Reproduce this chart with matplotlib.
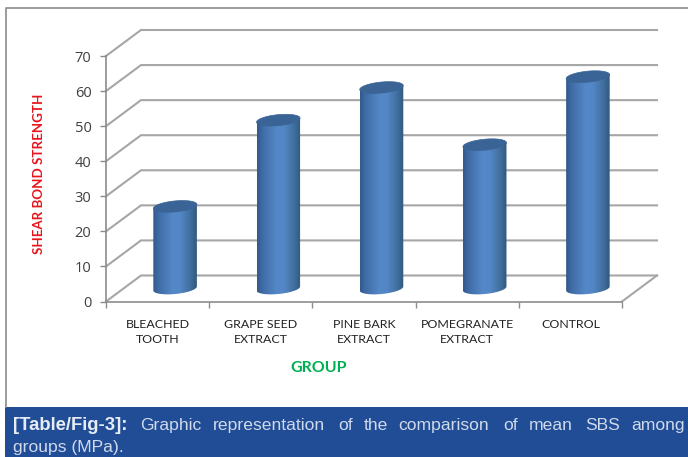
import numpy as np
import matplotlib
matplotlib.use('Agg')
import matplotlib.pyplot as plt
from matplotlib.colors import LinearSegmentedColormap
from matplotlib.lines import Line2D
from matplotlib.patches import Polygon, Rectangle

categories = ['BLEACHED\nTOOTH', 'GRAPE SEED\nEXTRACT', 'PINE BARK\nEXTRACT',
              'POMEGRANATE\nEXTRACT', 'CONTROL']
sbs_values = [23.4, 48, 57.3, 41, 60.4]
y_ticks = [0, 10, 20, 30, 40, 50, 60, 70]
caption_first = ['Graphic', 'representation', 'of', 'the', 'comparison', 'of', 'mean', 'SBS', 'among']
caption_first_x = [140, 213, 338, 364, 398, 503, 529, 585, 631]

W, H = 688, 457
fig = plt.figure(figsize=(W / 100, H / 100), dpi=100, facecolor='white')


def fx(px):
    return px / W


def fy(py):
    return 1 - py / H


# front plane of the fake 3d box
ax = fig.add_axes([fx(106), fy(301.5), (622 - 106) / W, (301.5 - 56) / H])
ax.patch.set_visible(False)
n = len(categories)
ymax = y_ticks[-1]

# depth of the box, in data units
dx = 35 / (516 / n)
dy = 26 / (245.5 / ymax)

wall = '#a6a6a6'
for v in y_ticks:
    ax.plot([0, dx, n + dx], [v, v + dy, v + dy], color=wall, lw=1.5, clip_on=False, zorder=1,
            solid_joinstyle='miter')
ax.plot([n, n + dx], [0, dy], color=wall, lw=1.5, clip_on=False, zorder=1)

cmap = LinearSegmentedColormap.from_list('cyl', [(0, '#335a8c'), (0.12, '#3f6ca6'), (0.45, '#5588c8'),
                                                 (0.62, '#5386c5'), (0.85, '#41709f'), (1, '#325880')])
a = 0.211
b = 5.5 / 3.5
shear = 2 / 3.5
t_low = np.linspace(np.pi, 2 * np.pi, 40)
t_all = np.linspace(0, 2 * np.pi, 80)

for i, val in enumerate(sbs_values):
    cx = i + 0.5 + dx / 2
    y0 = dy / 2
    y1 = val + dy / 2
    # outline of the cylinder body: bottom arc, then up to the top rim
    xs = cx + a * np.cos(t_low)
    ys = y0 + b * np.sin(t_low) + shear * np.cos(t_low)
    body_x = np.r_[cx - a, xs, cx + a]
    body_y = np.r_[y1 - shear, ys, y1 + shear]
    body = Polygon(np.c_[body_x, body_y], closed=True, fc='none', ec='none', zorder=2, clip_on=False)
    ax.add_patch(body)
    im = ax.imshow(np.linspace(0, 1, 64).reshape(1, -1), cmap=cmap, aspect='auto', zorder=2,
                   extent=[cx - a, cx + a, y0 - b - 1, y1 + 1])
    im.set_clip_path(body)
    top_x = cx + a * np.cos(t_all)
    top_y = y1 + b * np.sin(t_all) + shear * np.cos(t_all)
    ax.add_patch(Polygon(np.c_[top_x, top_y], closed=True, fc='#3a6496', ec='#3a6496', lw=0.5,
                         zorder=3, clip_on=False))

ax.set_xlim(0, n)
ax.set_ylim(0, ymax)

for s in ['top', 'right']:
    ax.spines[s].set_visible(False)
for s in ['left', 'bottom']:
    ax.spines[s].set_color('#8c8c8c')
    ax.spines[s].set_linewidth(1.2)

ax.set_yticks(y_ticks)
ax.tick_params(axis='y', length=4, width=1, color='#8c8c8c', pad=6.5, labelsize=10.5, labelcolor='#404040')
for lab in ax.get_yticklabels():
    lab.set_family('Open Sans')

ax.set_xticks(range(n + 1))
ax.set_xticklabels([])
ax.tick_params(axis='x', which='major', length=4, width=1, color='#8c8c8c')
ax.set_xticks(np.arange(n) + 0.5, minor=True)
ax.set_xticklabels(categories, minor=True, family='Lato', fontsize=8.9, color='#222222', linespacing=1.5)
ax.tick_params(axis='x', which='minor', length=0, pad=12.5)

ax.set_ylabel('SHEAR BOND STRENGTH', color='#e8141c', family='Lato', fontweight='bold', fontsize=9.6)
ax.yaxis.set_label_coords((45 - 106) / 516, (301.5 - 174) / 245.5)
ax.set_xlabel('GROUP', color='#00b050', family='Lato', fontweight='bold', fontsize=11.5)
ax.xaxis.set_label_coords((319 - 106) / 516, -(368 - 301.5) / 245.5)
ax.xaxis.label.set_verticalalignment('center')

# page frame and caption band
frame = '#8a8a8a'
fig.add_artist(Line2D([fx(6), fx(6), fx(688)], [fy(407), fy(7.5), fy(7.5)], color=frame, lw=1.2))
fig.add_artist(Rectangle((fx(5), 0), (W - 5) / W, 50 / H, transform=fig.transFigure,
                         fc='#214c96', ec='none'))

fig.text(fx(13), fy(424), '[Table/Fig-3]:', family='Liberation Sans', fontweight='bold', fontsize=13.3,
         color='#e6ecf5', va='center_baseline')
for word, wx in zip(caption_first, caption_first_x):
    fig.text(fx(wx), fy(424), word, family='Liberation Sans', fontsize=12.6, color='#cfdaec', va='center_baseline')
fig.text(fx(13), fy(446), 'groups (MPa).', family='Liberation Sans', fontsize=12.6, color='#cfdaec',
         va='center_baseline')

fig.savefig('out.png', dpi=100)
